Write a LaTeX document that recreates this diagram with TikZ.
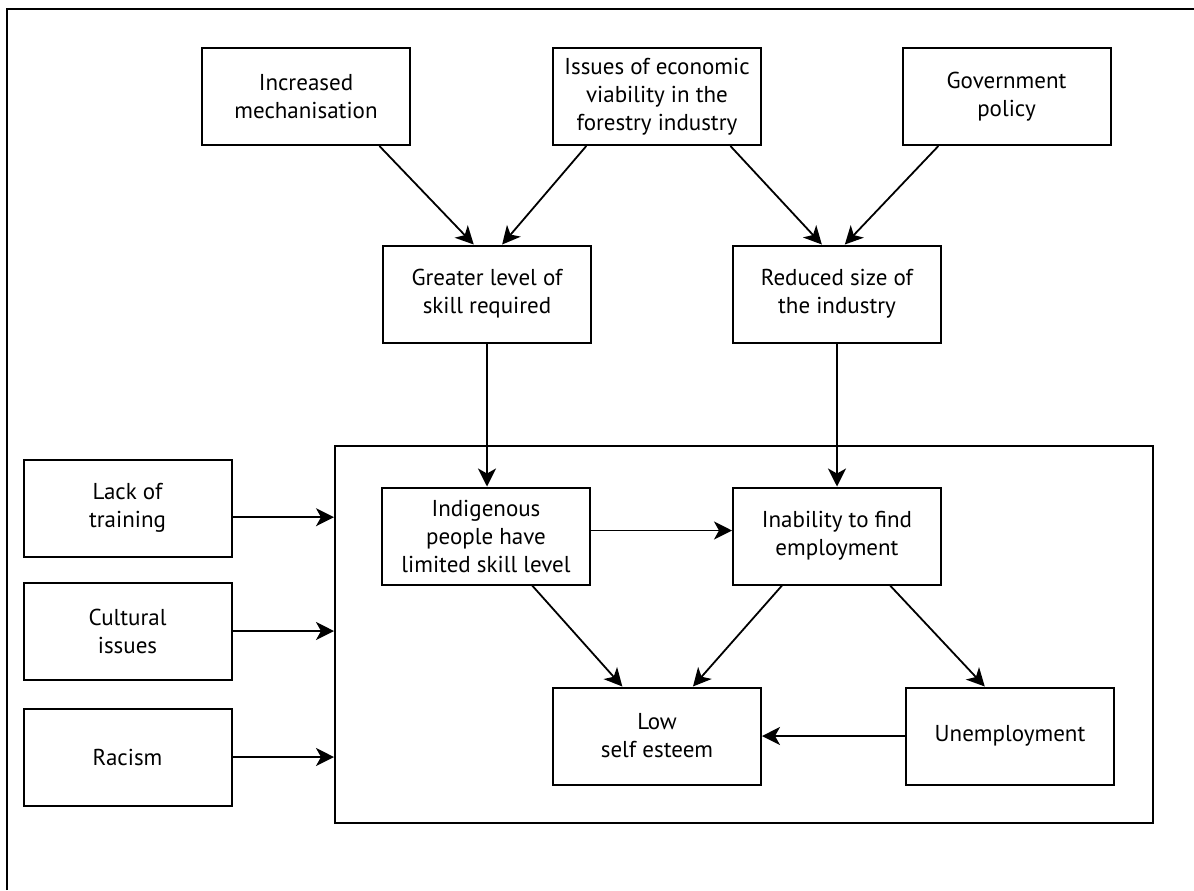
\documentclass[tikz,border=0pt]{standalone}
\usepackage{fontspec}
\setmainfont{PT Sans}
\usetikzlibrary{arrows.meta}
\tikzset{
	box/.style={draw, line width=1pt, minimum width=104pt, minimum height=48.5pt, inner sep=0pt, align=center, font=\fontsize{11.5}{14}\selectfont},
	arr/.style={line width=0.9pt, -{Stealth[length=9pt,width=9pt,inset=2.5pt]}}
}

\begin{document}
\begin{tikzpicture}[x=0.5pt, y=-0.5pt]
			%%%%% START %%%%%
			
			\useasboundingbox (0,0) rectangle (1194,890);
			\draw[line width=1.4pt] (7,890) -- (7,9) -- (1194,9);
			
			\node[box] (mech) at (306,96.5) {Increased\\mechanisation};
			\node[box] (econ) at (657,96.5) {Issues of economic\\viability in the\\forestry industry};
			\node[box] (gov) at (1006.5,96.5) {Government\\policy};
			
			\node[box] (skill) at (487,294) {Greater level of\\skill required};
			\node[box] (size) at (837,294) {Reduced size of\\the industry};
			
			\node[draw, line width=1pt, minimum width=409pt, minimum height=188.5pt] (frame) at (744,634.5) {};
			
			\node[box] (train) at (127.5,508) {Lack of\\training};
			\node[box] (cult) at (127.5,631) {Cultural\\issues};
			\node[box] (race) at (127.5,757) {Racism};
			
			\node[box] (indig) at (486,536) {Indigenous\\people have\\limited skill level};
			\node[box] (find) at (837,536) {Inability to find\\employment};
			\node[box] (low) at (657,736) {Low\\self esteem};
			\node[box] (unemp) at (1010,736) {Unemployment};
			
			\draw[arr] (mech.-34) -- (skill.105);
			\draw[arr] (econ.215) -- (skill.73);
			\draw[arr] (econ.-34) -- (size.107);
			\draw[arr] (gov.216) -- (size.81);
			
			\draw[arr] (skill.south) -- (skill.south |- indig.north);
			\draw[arr] (size.south) -- (find.north);
			
			\draw[arr] (train.-5) -- (train.-5 -| frame.west);
			\draw[arr] (cult.east) -- (cult.east -| frame.west);
			\draw[arr] (race.east) -- (race.east -| frame.west);
			
			\draw[arr] (indig.3) -- (indig.3 -| find.west);
			\draw[arr] (indig.-47) -- (low.125);
			\draw[arr] (find.222) -- (low.54);
			\draw[arr] (find.-43) -- (unemp.117);
			\draw[arr] (unemp.west) -- (low.east);
			
			%%%%% END %%%%%
\end{tikzpicture}
\end{document}
